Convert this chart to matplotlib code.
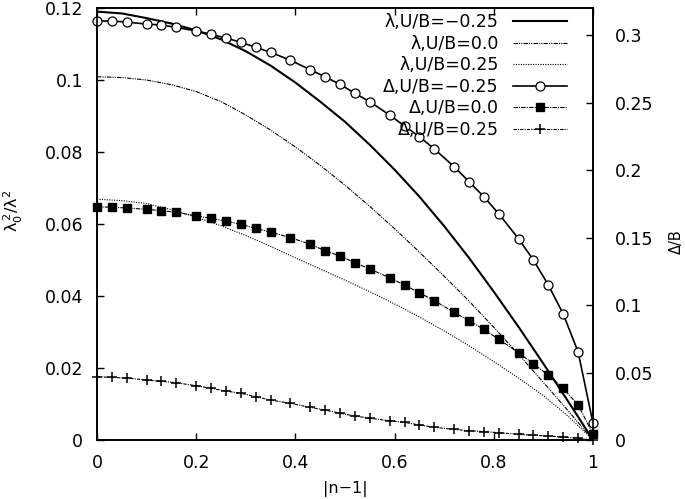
import matplotlib
matplotlib.use('Agg')
import matplotlib.pyplot as plt
from matplotlib.ticker import FuncFormatter, MultipleLocator

# |n-1| at the Delta data points
x_pts = [0.0, 0.03, 0.06, 0.10, 0.13, 0.16, 0.20, 0.23, 0.26, 0.29, 0.32,
         0.35, 0.39, 0.43, 0.46, 0.49, 0.52, 0.55, 0.59, 0.62, 0.65, 0.68,
         0.72, 0.75, 0.78, 0.81, 0.85, 0.88, 0.91, 0.94, 0.97, 1.0]

# Delta/B (right axis)
gap_m025 = [0.3104, 0.3104, 0.3096, 0.3081, 0.3074, 0.3057, 0.3030, 0.3005,
            0.2978, 0.2946, 0.2909, 0.2872, 0.2813, 0.2743, 0.2690, 0.2635,
            0.2568, 0.2506, 0.2407, 0.2326, 0.2247, 0.2156, 0.2025, 0.1914,
            0.1802, 0.1676, 0.1490, 0.1333, 0.1148, 0.0933, 0.0652, 0.0124]
gap_0 = [0.1728, 0.1724, 0.1719, 0.1709, 0.1699, 0.1687, 0.1661, 0.1642,
         0.1622, 0.1598, 0.1568, 0.1540, 0.1499, 0.1450, 0.1402, 0.1363,
         0.1313, 0.1267, 0.1202, 0.1148, 0.1091, 0.1032, 0.0946, 0.0884,
         0.0820, 0.0746, 0.0647, 0.0563, 0.0481, 0.0383, 0.0259, 0.0044]
gap_p025 = [0.0469, 0.0464, 0.0459, 0.0444, 0.0435, 0.0424, 0.0402, 0.0383,
            0.0363, 0.0346, 0.0321, 0.0296, 0.0272, 0.0242, 0.0222, 0.0198,
            0.0178, 0.0161, 0.0143, 0.0131, 0.0111, 0.0094, 0.0079, 0.0069,
            0.0062, 0.0054, 0.0042, 0.0035, 0.0030, 0.0022, 0.0013, 0.0]

# lambda_0^2/lambda^2 (left axis)
x_lam = [0.0, 0.05, 0.1, 0.15, 0.2, 0.25, 0.3, 0.35, 0.4, 0.45, 0.5,
         0.55, 0.6, 0.65, 0.7, 0.75, 0.8, 0.85, 0.9, 0.95, 1.0]
lam_m025 = [0.1190, 0.1185, 0.1172, 0.1157, 0.1138, 0.1113, 0.1080, 0.1040,
            0.0993, 0.0940, 0.0884, 0.0820, 0.0751, 0.0676, 0.0594, 0.0506,
            0.0412, 0.0314, 0.0212, 0.0107, 0.0]
lam_0 = [0.1009, 0.1007, 0.1000, 0.0987, 0.0968, 0.0940, 0.0903, 0.0861,
         0.0814, 0.0763, 0.0708, 0.0649, 0.0587, 0.0522, 0.0455, 0.0386,
         0.0313, 0.0238, 0.0160, 0.0081, 0.0]
lam_p025 = [0.0669, 0.0665, 0.0657, 0.0640, 0.0619, 0.0595, 0.0568, 0.0538,
            0.0506, 0.0475, 0.0444, 0.0412, 0.0378, 0.0342, 0.0303, 0.0262,
            0.0218, 0.0172, 0.0123, 0.0066, 0.0]

labels = ['λ,U/B=−0.25', 'λ,U/B=0.0', 'λ,U/B=0.25',
          'Δ,U/B=−0.25', 'Δ,U/B=0.0', 'Δ,U/B=0.25']

plt.rcParams['font.family'] = ['DejaVu Sans']
plt.rcParams['font.size'] = 12.5
plt.rcParams['mathtext.fontset'] = 'dejavusans'

fig = plt.figure(figsize=(6.85, 4.99), dpi=100)
ax = fig.add_axes([0.1416, 0.1182, 0.7241, 0.8657])
ax2 = ax.twinx()

h1, = ax.plot(x_lam, lam_m025, 'k-', lw=1.5)
h2, = ax.plot(x_lam, lam_0, color='k', lw=0.8, dashes=(4, 1, 1, 1, 1, 1))
h3, = ax.plot(x_lam, lam_p025, color='k', lw=0.8, dashes=(1, 1.2))

h4, = ax2.plot(x_pts, gap_m025, 'k-', lw=1.2, marker='o', ms=6.5,
               mfc='white', mec='k', mew=0.9, clip_on=False)
h5, = ax2.plot(x_pts, gap_0, color='k', lw=0.8, dashes=(4, 1, 1, 1),
               marker='s', ms=5.5, mfc='k', mec='k', clip_on=False)
h6, = ax2.plot(x_pts, gap_p025, color='k', lw=0.8, dashes=(3, 1, 1, 1),
               marker='+', ms=7.5, mew=1.1, clip_on=False)

ax.set_xlim(0, 1)
ax.set_ylim(0, 0.12)
ax2.set_ylim(0, 0.32)

fmt = FuncFormatter(lambda v, p: '%g' % round(v, 4))
ax.xaxis.set_major_locator(MultipleLocator(0.2))
ax.yaxis.set_major_locator(MultipleLocator(0.02))
ax2.yaxis.set_major_locator(MultipleLocator(0.05))
ax.xaxis.set_major_formatter(fmt)
ax.yaxis.set_major_formatter(fmt)
ax2.yaxis.set_major_formatter(fmt)

ax.tick_params(axis='x', direction='in', top=True, length=5, width=1, pad=10)
ax.tick_params(axis='y', direction='in', length=5, width=1, pad=10)
ax2.tick_params(axis='y', direction='in', length=5, width=1, pad=16)
for a in (ax, ax2):
    for s in a.spines.values():
        s.set_linewidth(1.2)

ax.set_xlabel('|n−1|', fontsize=11.5)
ax.xaxis.set_label_coords(0.5, -0.095)
ax.set_ylabel(r'$\mathregular{\lambda_0^{\,2}/\lambda^2}$', fontsize=11.5)
ax.yaxis.set_label_coords(-0.145, 0.53)
ax2.set_ylabel('Δ/B', fontsize=10.5)
ax2.yaxis.set_label_coords(1.153, 0.46)

ax2.legend([h1, h2, h3, h4, h5, h6], labels, loc='upper right',
           bbox_to_anchor=(0.948, 0.988), frameon=False, markerfirst=False,
           handlelength=3.1, handletextpad=0.86, labelspacing=0.2,
           borderpad=0, borderaxespad=0)

fig.savefig('out.png', dpi=100)
